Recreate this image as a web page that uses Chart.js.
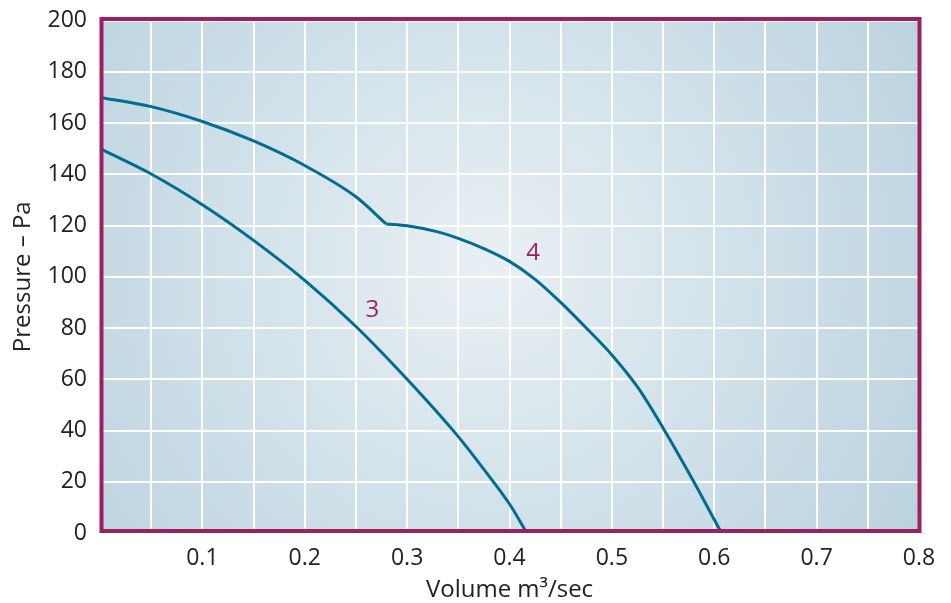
<!DOCTYPE html>
<html>
<head>
<meta charset="utf-8">
<script src="https://cdn.jsdelivr.net/npm/chart.js@4.4.0/dist/chart.umd.min.js"></script>
<style>
  html, body { margin: 0; padding: 0; background: #fff; }
  #wrap { width: 951px; height: 603px; }
</style>
</head>
<body>
<div id="wrap"><canvas id="myChart" width="951" height="603"></canvas></div>
<script>
// fan curves (volume m3/s, pressure Pa)
const curve3Volume = [0, 0.05, 0.1, 0.15, 0.2, 0.25, 0.3, 0.35, 0.375, 0.4, 0.417];
const curve3Pressure = [150, 140.1, 128.1, 114.2, 98.6, 80.6, 60.0, 37.6, 24.8, 11.3, 0];

// curve 4 has a sharp kink at ~0.28, so it is kept as two pieces
const curve4aVolume = [0, 0.05, 0.1, 0.15, 0.2, 0.25, 0.2795];
const curve4aPressure = [170, 166.4, 160.6, 153.0, 143.4, 131.2, 120.6];
const curve4bVolume = [0.2795, 0.3, 0.33, 0.35, 0.375, 0.4, 0.425, 0.45, 0.475, 0.5, 0.525, 0.55, 0.58, 0.607];
const curve4bPressure = [120.6, 119.9, 117.5, 115.0, 111.0, 106.0, 99.0, 90.0, 80.0, 69.5, 57.0, 41.0, 20.0, 0];

const curveNames = ['3', '4'];
const curveNameVolume = [0.266, 0.423];
const curveNamePressure = [86.8, 109.3];

const xTickLabels = ['0.1', '0.2', '0.3', '0.4', '0.5', '0.6', '0.7', '0.8'];
const yTickLabels = ['0', '20', '40', '60', '80', '100', '120', '140', '160', '180', '200'];

const lineColor = '#006c91';
const frameColor = '#9e1e62';
const fontFamily = '"Open Sans", "Noto Sans", sans-serif';

const toPoints = (xs, ys) => xs.map((x, i) => ({ x: x, y: ys[i] }));

const lineDataset = (xs, ys) => ({
    data: toPoints(xs, ys),
    borderColor: lineColor,
    borderWidth: 3,
    pointRadius: 0,
    fill: false,
    cubicInterpolationMode: 'monotone',
});

const plotBackground = {
    id: 'plotBackground',
    beforeDraw(chart) {
        const { ctx, chartArea: a } = chart;
        const cx = a.left + (a.right - a.left) * 0.47;
        const cy = a.top + (a.bottom - a.top) * 0.48;
        const g = ctx.createRadialGradient(cx, cy, 0, cx, cy, 520);
        g.addColorStop(0, '#e9f0f4');
        g.addColorStop(1, '#b9d2de');
        ctx.save();
        ctx.fillStyle = g;
        ctx.fillRect(a.left, a.top, a.right - a.left, a.bottom - a.top);
        ctx.restore();
    },
};

const plotFrame = {
    id: 'plotFrame',
    afterDraw(chart) {
        const { ctx, chartArea: a, scales } = chart;
        ctx.save();
        ctx.strokeStyle = frameColor;
        ctx.lineWidth = 4;
        ctx.strokeRect(a.left + 1.5, a.top - 1.5, a.right - a.left - 1, a.bottom - a.top - 0.5);
        // curve numbers
        ctx.fillStyle = frameColor;
        ctx.font = '24px ' + fontFamily;
        ctx.textAlign = 'center';
        ctx.textBaseline = 'middle';
        curveNames.forEach((name, i) => {
            ctx.fillText(name,
                scales.x.getPixelForValue(curveNameVolume[i]),
                scales.y.getPixelForValue(curveNamePressure[i]));
        });
        ctx.restore();
    },
};

const renderChart = () => {
    const el = document.getElementById('myChart');
    new Chart(el, {
        type: 'line',
        data: {
            datasets: [
                lineDataset(curve3Volume, curve3Pressure),
                lineDataset(curve4aVolume, curve4aPressure),
                lineDataset(curve4bVolume, curve4bPressure),
            ],
        },
        options: {
            responsive: false,
            animation: false,
            devicePixelRatio: 1,
            layout: { padding: { top: 20.5, right: 32, bottom: 0, left: 0 } },
            plugins: {
                legend: { display: false },
                tooltip: { enabled: false },
            },
            scales: {
                x: {
                    type: 'linear',
                    min: 0,
                    max: 0.8,
                    border: { display: false },
                    grid: { color: '#ffffff', lineWidth: 2, drawTicks: false },
                    ticks: {
                        stepSize: 0.05,
                        autoSkip: false,
                        maxRotation: 0,
                        padding: 12,
                        color: '#222',
                        font: { family: fontFamily, size: 23 },
                        callback: (v) => xTickLabels.find((t) => Math.abs(parseFloat(t) - v) < 1e-6) || '',
                    },
                    title: {
                        display: true,
                        text: 'Volume m³/sec',
                        color: '#222',
                        font: { family: fontFamily, size: 24, lineHeight: 1.1 },
                        padding: { top: 0, bottom: 0 },
                    },
                    afterFit: (s) => {
                        s.height = 70;
                        s.paddingLeft = 0;
                        s.paddingRight = 0;
                    },
                },
                y: {
                    min: 0,
                    max: 200,
                    border: { display: false },
                    grid: { color: '#ffffff', lineWidth: 2, drawTicks: false },
                    ticks: {
                        stepSize: 20,
                        padding: 13,
                        color: '#222',
                        font: { family: fontFamily, size: 23 },
                        callback: (v) => yTickLabels.find((t) => Number(t) === v) || '',
                    },
                    title: {
                        display: true,
                        text: 'Pressure – Pa',
                        color: '#222',
                        font: { family: fontFamily, size: 24, lineHeight: 1.2 },
                        padding: { top: 9, bottom: 0 },
                    },
                    afterFit: (s) => {
                        s.width = 100;
                        s.paddingTop = 0;
                        s.paddingBottom = 0;
                    },
                },
            },
        },
        plugins: [plotBackground, plotFrame],
    });
};

renderChart();
</script>
</body>
</html>
